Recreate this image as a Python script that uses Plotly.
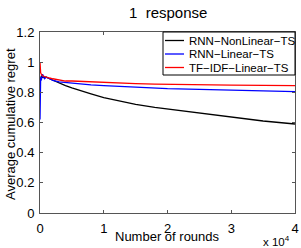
import plotly.graph_objects as go

rounds = [1, 50, 100, 200, 400, 700, 1000, 1500, 2000, 3000, 4000, 5000, 6000, 8000,
          10000, 12000, 15000, 18000, 20000, 25000, 30000, 35000, 40000]
rnn_nonlinear = [0.86, 0.88, 0.90, 0.91, 0.90, 0.90, 0.90, 0.89, 0.88, 0.865, 0.845, 0.83, 0.815, 0.79,
                 0.765, 0.745, 0.72, 0.70, 0.69, 0.665, 0.635, 0.61, 0.59]
rnn_linear = [0.62, 0.85, 0.90, 0.88, 0.92, 0.89, 0.90, 0.89, 0.88, 0.87, 0.865, 0.86, 0.855, 0.85,
              0.845, 0.84, 0.835, 0.83, 0.825, 0.82, 0.815, 0.81, 0.805]
tfidf_linear = [1.0, 0.95, 0.93, 0.92, 0.91, 0.905, 0.90, 0.895, 0.89, 0.88, 0.875, 0.875, 0.873, 0.87,
                0.866, 0.862, 0.858, 0.855, 0.853, 0.85, 0.848, 0.846, 0.845]

series_names = ["RNN\u2212NonLinear\u2212TS", "RNN\u2212Linear\u2212TS", "TF\u2212IDF\u2212Linear\u2212TS"]
series_colors = ["black", "blue", "red"]

x_ticks = [0, 10000, 20000, 30000, 40000]
x_tick_labels = ["0", "1", "2", "3", "4"]
y_ticks = [0, 0.2, 0.4, 0.6, 0.8, 1.0, 1.2]
y_tick_labels = ["0", "0.2", "0.4", "0.6", "0.8", "1", "1.2"]

font = "Liberation Sans, Arial, sans-serif"
W, H = 301, 248
L, R, T, B = 40, 6, 32, 35
pw, ph = W - L - R, H - T - B

def px_x(p):
    return (p - L) / pw

def px_y(p):
    return 1 - (p - T) / ph

fig = go.Figure()
for name, vals, col in zip(series_names, [rnn_nonlinear, rnn_linear, tfidf_linear], series_colors):
    fig.add_trace(go.Scatter(x=rounds, y=vals, mode="lines", name=name,
                             line=dict(color=col, width=1.3), showlegend=False))

axis_common = dict(showgrid=False, zeroline=False, showline=True, linecolor="#555555", linewidth=1,
                   mirror="ticks", ticks="inside", ticklen=3, tickcolor="#555555", automargin=False,
                   tickfont=dict(family=font, size=13, color="black"))

fig.update_layout(
    width=W, height=H,
    margin=dict(l=L, r=R, t=T, b=B),
    paper_bgcolor="white", plot_bgcolor="white",
    xaxis=dict(range=[0, 40000], tickvals=x_ticks, ticktext=x_tick_labels, ticklabelstandoff=3,
               **axis_common),
    yaxis=dict(range=[0, 1.2], tickvals=y_ticks, ticktext=y_tick_labels, ticklabelstandoff=2,
               **axis_common),
    showlegend=False,
)

# Title and axis titles
fig.add_annotation(text="1  response", xref="paper", yref="paper", x=0.5, y=px_y(13),
                   xanchor="center", yanchor="middle", showarrow=False,
                   font=dict(family=font, size=15, color="black"))
fig.add_annotation(text="Number of rounds", xref="paper", yref="paper", x=px_x(167), y=px_y(236.5),
                   xanchor="center", yanchor="middle", showarrow=False,
                   font=dict(family=font, size=13, color="black"))
fig.add_annotation(text="Average cumulative regret", xref="paper", yref="paper", x=px_x(10), y=px_y(124),
                   xanchor="center", yanchor="middle", showarrow=False, textangle=-90,
                   font=dict(family=font, size=13, color="black"))
fig.add_annotation(text="x 10<sup>4</sup>", xref="paper", yref="paper", x=px_x(292), y=px_y(241),
                   xanchor="right", yanchor="middle", showarrow=False,
                   font=dict(family=font, size=11.5, color="black"))

# Legend box
fig.add_shape(type="rect", xref="paper", yref="paper", x0=px_x(163), x1=px_x(295),
              y0=px_y(75), y1=px_y(32), line=dict(color="black", width=1), fillcolor="white", layer="above")
row_y = [40.5, 54, 67.5]
for name, col, ry in zip(series_names, series_colors, row_y):
    fig.add_shape(type="line", xref="paper", yref="paper", x0=px_x(165), x1=px_x(184),
                  y0=px_y(ry), y1=px_y(ry), line=dict(color=col, width=1.3), layer="above")
    fig.add_annotation(text=name, xref="paper", yref="paper", x=px_x(187), y=px_y(ry),
                       xanchor="left", yanchor="middle", showarrow=False,
                       font=dict(family=font, size=11.5, color="black"))

fig.write_html("out.html", config={"displayModeBar": False},
               post_script="document.body.style.margin='0px';document.body.style.overflow='hidden';")
